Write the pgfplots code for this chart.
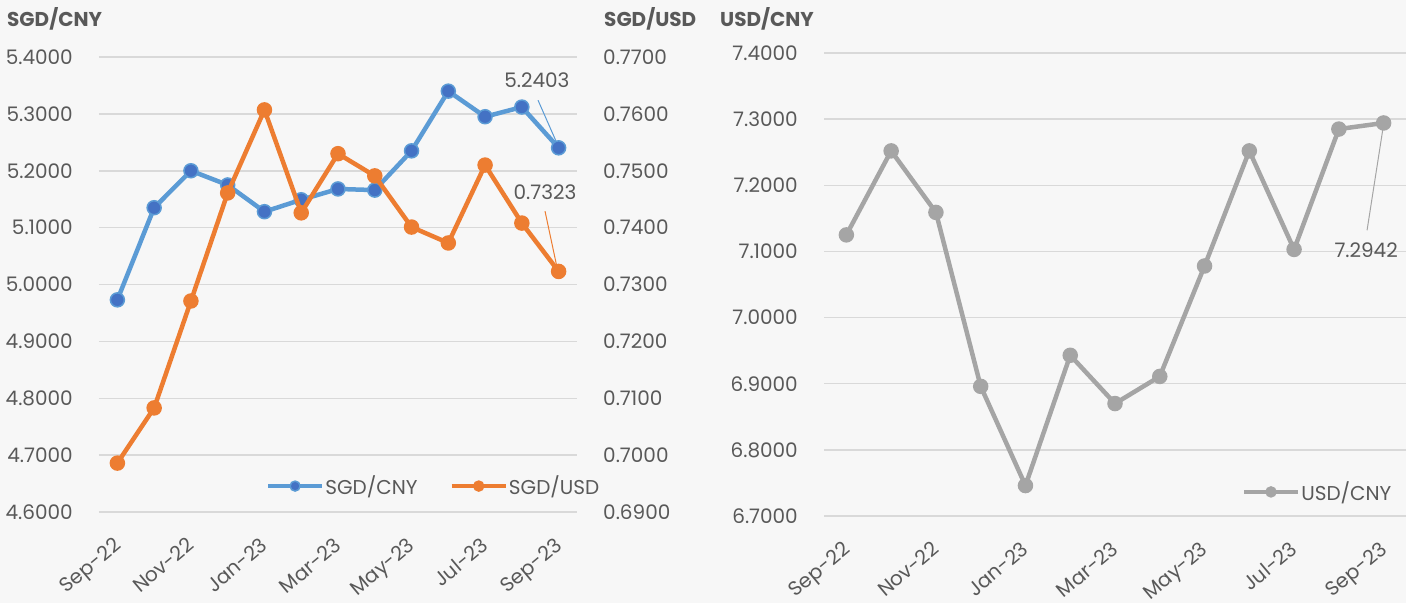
\documentclass[border=0pt]{standalone}
\usepackage{pgfplots}
\pgfplotsset{compat=1.18}
\usepackage{fontspec}
\setmainfont{Poppins}
\definecolor{bg}{HTML}{F7F7F7}
\definecolor{txt}{HTML}{595959}
\definecolor{gridc}{HTML}{D9D9D9}
\definecolor{cblue}{HTML}{5B9BD5}
\definecolor{cblued}{HTML}{4472C4}
\definecolor{corange}{HTML}{ED7D31}
\definecolor{cgray}{HTML}{A5A5A5}
\newcommand{\tf}{\fontsize{20}{20}\selectfont}
\pgfplotsset{
  base/.style={
    scale only axis,
    xmin=-0.5, xmax=12.5,
    axis line style={draw=none},
    major tick length=0pt,
    xtick={0,2,4,6,8,10,12},
    xticklabels={Sep-22,Nov-22,Jan-23,Mar-23,May-23,Jul-23,Sep-23},
    x tick label style={anchor=north east, inner sep=0pt, font=\tf, text=txt, xshift=-5pt, yshift=-24pt, rotate=40},
    y tick label style={inner sep=0pt, font=\tf, text=txt},
    yticklabel style={/pgf/number format/fixed, /pgf/number format/fixed zerofill, /pgf/number format/precision=4, /pgf/number format/assume math mode=true},
    ymajorgrids, grid style={draw=gridc, line width=1.5pt},
    clip=false,
    legend style={draw=none, fill=none, font=\tf, text=txt, legend columns=-1, /tikz/every even column/.append style={column sep=30pt}, /tikz/every odd column/.append style={column sep=-1pt}},
    legend image code/.code={\draw[mark repeat=2,mark phase=2,#1, mark size=5pt] plot coordinates {(0pt,0pt) (27pt,0pt) (54pt,0pt)};},
  },
  sblue/.style={cblue, line width=4.5pt, mark=*, mark size=7pt, mark options={fill=cblued, draw=cblue, line width=1.5pt}},
  sorange/.style={corange, line width=4.5pt, mark=*, mark size=7pt, mark options={fill=corange, draw=corange, line width=1.5pt}},
  sgray/.style={cgray, line width=4.5pt, mark=*, mark size=7pt, mark options={fill=cgray, draw=cgray, line width=1.5pt}},
}
\begin{document}
\begin{tikzpicture}
\fill[bg] (0,0) rectangle (1406pt,603pt);
% left panel, left axis
\begin{axis}[base, at={(99pt,91pt)}, anchor=south west, width=478pt, height=455pt,
  ymin=4.6, ymax=5.4, ytick={4.6,4.7,4.8,4.9,5.0,5.1,5.2,5.3,5.4},
  yticklabel style={anchor=east, xshift=-26pt}]
\addplot[sblue, forget plot] coordinates {
(0,4.973) (1,5.135) (2,5.200) (3,5.175) (4,5.128) (5,5.149) (6,5.168) (7,5.166) (8,5.235) (9,5.340) (10,5.295) (11,5.312) (12,5.2403)};
\draw[cblue, line width=1pt] (axis cs:11.44,5.324) -- (axis cs:11.93,5.252);
\node[font=\tf, text=txt] at (axis cs:11.41,5.36) {5.2403};
\end{axis}
% left panel, right axis
\begin{axis}[base, at={(99pt,91pt)}, anchor=south west, width=478pt, height=455pt,
  ymin=0.69, ymax=0.77, ytick={0.69,0.70,0.71,0.72,0.73,0.74,0.75,0.76,0.77},
  axis y line*=right, ymajorgrids=false, xticklabels={},
  yticklabel style={anchor=west, xshift=26pt},
  legend style={at={(0.70,0.057)}, anchor=center}]
\addlegendimage{sblue}
\addlegendentry{SGD/CNY}
\addplot[sorange] coordinates {
(0,0.6986) (1,0.7083) (2,0.7271) (3,0.7461) (4,0.7607) (5,0.7426) (6,0.7530) (7,0.7491) (8,0.7401) (9,0.7373) (10,0.7510) (11,0.7408) (12,0.7323)};
\addlegendentry{SGD/USD}
\draw[corange, line width=1pt] (axis cs:11.63,0.7429) -- (axis cs:11.96,0.7329);
\node[font=\tf, text=txt] at (axis cs:11.63,0.7463) {0.7323};
\end{axis}
% right panel
\begin{axis}[base, at={(824pt,87pt)}, anchor=south west, width=582pt, height=463pt,
  ymin=6.7, ymax=7.4, ytick={6.7,6.8,6.9,7.0,7.1,7.2,7.3,7.4},
  yticklabel style={anchor=east, xshift=-26pt},
  legend style={at={(0.848,0.052)}, anchor=center}]
\addplot[sgray] coordinates {
(0,7.125) (1,7.252) (2,7.159) (3,6.896) (4,6.746) (5,6.943) (6,6.870) (7,6.911) (8,7.078) (9,7.252) (10,7.103) (11,7.285) (12,7.2942)};
\addlegendentry{USD/CNY}
\draw[cgray, line width=1pt] (axis cs:11.99,7.288) -- (axis cs:11.63,7.132);
\node[font=\tf, text=txt] at (axis cs:11.61,7.102) {7.2942};
\end{axis}
\node[anchor=north west, inner sep=0pt, font=\fontsize{20}{20}\selectfont\bfseries, text=txt] at (7pt,596pt) {SGD/CNY};
\node[anchor=north west, inner sep=0pt, font=\fontsize{20}{20}\selectfont\bfseries, text=txt] at (604pt,596pt) {SGD/USD};
\node[anchor=north west, inner sep=0pt, font=\fontsize{20}{20}\selectfont\bfseries, text=txt] at (720pt,596pt) {USD/CNY};
\pgfresetboundingbox
\useasboundingbox (0,0) rectangle (1406pt,603pt);
\end{tikzpicture}
\end{document}
